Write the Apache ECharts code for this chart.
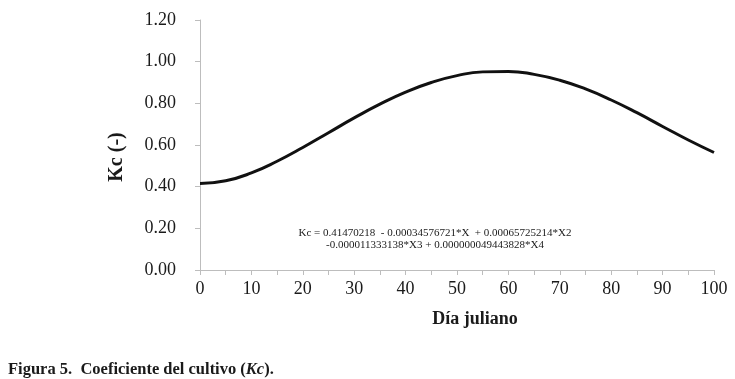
<!DOCTYPE html>
<html><head><meta charset="utf-8">
<script src="https://cdn.jsdelivr.net/npm/echarts@6/dist/echarts.min.js"></script>
<style>html,body{margin:0;padding:0;background:#fff}#c{width:735px;height:379px}</style>
</head><body><div id="c"></div>
<script>
const days = [0,5,10,15,20,25,30,35,40,45,50,55,60,65,70,75,80,85,90,95,100];
const kc = [0.415,0.428,0.466,0.522,0.588,0.659,0.730,0.796,0.854,0.900,0.933,0.951,0.953,0.939,0.911,0.869,0.816,0.755,0.689,0.624,0.564];
const xName = 'Día juliano';
const yName = 'Kc (-)';
const eqLine1 = 'Kc = 0.41470218  - 0.00034576721*X  + 0.00065725214*X2';
const eqLine2 = '-0.000011333138*X3 + 0.000000049443828*X4';
const caption = 'Figura 5.  Coeficiente del cultivo (';

const serif = '"Liberation Serif","DejaVu Serif",serif';
const chart = echarts.init(document.getElementById('c'));
chart.setOption({
  animation:false,
  backgroundColor:'#fff',
  grid:{left:200,right:21,top:20,bottom:109},
  xAxis:{type:'value',min:0,max:100,interval:5,
    axisLine:{lineStyle:{color:'#bdbdbd',width:1}},
    axisTick:{show:true,length:5,lineStyle:{color:'#bdbdbd'}},
    splitLine:{show:false},
    axisLabel:{margin:10,color:'#1a1a1a',fontFamily:serif,fontSize:18,
      formatter:v=> (v%10===0? String(v):'')},
  },
  yAxis:{type:'value',min:0,max:1.2,interval:0.2,
    axisLine:{show:true,lineStyle:{color:'#bdbdbd',width:1}},
    axisTick:{show:true,length:5,lineStyle:{color:'#bdbdbd'}},
    splitLine:{show:false},
    axisLabel:{margin:24,color:'#1a1a1a',fontFamily:serif,fontSize:18,
      formatter:v=>v.toFixed(2)}
  },
  series:[{type:'line',data:days.map((d,i)=>[d,kc[i]]),smooth:true,symbol:'none',
    lineStyle:{color:'#111',width:3}}],
  graphic:[
    {type:'text',x:435,y:233,style:{text:eqLine1,font:'11px '+serif,fill:'#1a1a1a',textAlign:'center',textVerticalAlign:'middle'}},
    {type:'text',x:435,y:245,style:{text:eqLine2,font:'11px '+serif,fill:'#1a1a1a',textAlign:'center',textVerticalAlign:'middle'}},
    {type:'text',x:475,y:319,style:{text:xName,font:'bold 18px '+serif,fill:'#1a1a1a',textAlign:'center',textVerticalAlign:'middle'}},
    {type:'text',x:117,y:157,rotation:Math.PI/2,style:{text:yName,font:'bold 20px '+serif,fill:'#1a1a1a',textAlign:'center',textVerticalAlign:'middle'}},
    {type:'text',x:8,y:370,style:{text:'{b|'+caption+'}{i|Kc}{b|).}',rich:{b:{font:'bold 16.5px '+serif,fill:'#1a1a1a'},i:{font:'italic bold 16.5px '+serif,fill:'#1a1a1a'}},textVerticalAlign:'middle'}}
  ]
});
</script></body></html>
